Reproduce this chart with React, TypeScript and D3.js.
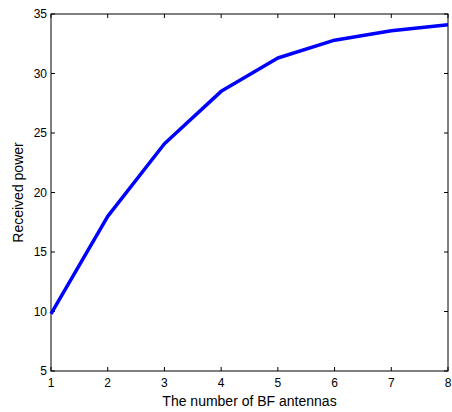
import * as d3 from "d3";
import { useEffect, useRef } from "react";

const antennas = [1, 2, 3, 4, 5, 6, 7, 8];
const receivedPower = [9.8, 18.0, 24.1, 28.5, 31.3, 32.8, 33.6, 34.1];
const yTicks = [5, 10, 15, 20, 25, 30, 35];

const App = () => {
  const ref = useRef<SVGSVGElement>(null);

  useEffect(() => {
    const width = 452;
    const height = 412;
    const margin = { top: 14, right: 4, bottom: 41, left: 51 };
    const svg = d3.select(ref.current);
    svg.selectAll("*").remove();

    const x = d3.scaleLinear().domain([1, 8]).range([margin.left, width - margin.right]);
    const y = d3.scaleLinear().domain([5, 35]).range([height - margin.bottom, margin.top]);

    const font = "Liberation Sans, Arial, sans-serif";

    // box
    svg.append("rect")
      .attr("x", margin.left)
      .attr("y", margin.top)
      .attr("width", width - margin.left - margin.right)
      .attr("height", height - margin.top - margin.bottom)
      .attr("fill", "white")
      .attr("stroke", "black")
      .attr("stroke-width", 1);

    // x ticks (bottom and top, pointing inward)
    const xt = svg.append("g");
    antennas.forEach(v => {
      xt.append("line").attr("x1", x(v)).attr("x2", x(v))
        .attr("y1", y(5)).attr("y2", y(5) - 4).attr("stroke", "black");
      xt.append("line").attr("x1", x(v)).attr("x2", x(v))
        .attr("y1", y(35)).attr("y2", y(35) + 4).attr("stroke", "black");
      xt.append("text").attr("x", x(v)).attr("y", y(5) + 16)
        .attr("text-anchor", "middle").attr("font-family", font).attr("font-size", 12)
        .text(v);
    });

    // y ticks
    const yt = svg.append("g");
    yTicks.forEach(v => {
      yt.append("line").attr("x1", x(1)).attr("x2", x(1) + 4)
        .attr("y1", y(v)).attr("y2", y(v)).attr("stroke", "black");
      yt.append("line").attr("x1", x(8)).attr("x2", x(8) - 4)
        .attr("y1", y(v)).attr("y2", y(v)).attr("stroke", "black");
      yt.append("text").attr("x", x(1) - 4).attr("y", y(v) + 4)
        .attr("text-anchor", "end").attr("font-family", font).attr("font-size", 12)
        .text(v);
    });

    // the line
    svg.append("path")
      .datum(antennas.map((a, i) => [a, receivedPower[i]] as [number, number]))
      .attr("fill", "none")
      .attr("stroke", "#0000ff")
      .attr("stroke-width", 3.5)
      .attr("stroke-linejoin", "round")
      .attr("d", d3.line<[number, number]>().x(d => x(d[0])).y(d => y(d[1])));

    // labels
    svg.append("text")
      .attr("x", (margin.left + width - margin.right) / 2)
      .attr("y", 406)
      .attr("text-anchor", "middle")
      .attr("font-family", font).attr("font-size", 14)
      .text("The number of BF antennas");

    svg.append("text")
      .attr("transform", `translate(23, ${(margin.top + height - margin.bottom) / 2}) rotate(-90)`)
      .attr("text-anchor", "middle")
      .attr("font-family", font).attr("font-size", 14)
      .text("Received power");
  });

  return (
    <svg ref={ref} width={452} height={412}
      style={{ position: "absolute", left: 0, top: 0, background: "white" }} />
  );
};

export default App;
